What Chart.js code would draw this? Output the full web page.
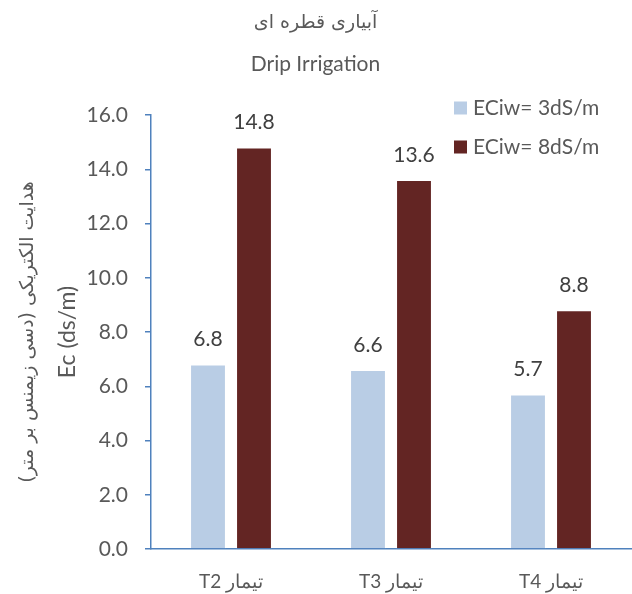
<!DOCTYPE html>
<html>
<head>
<meta charset="utf-8">
<script src="https://cdn.jsdelivr.net/npm/chart.js@4/dist/chart.umd.min.js"></script>
<style>
  body { margin: 0; background: #fff; }
  canvas { display: block; }
</style>
</head>
<body>
<canvas id="dripChart" width="632" height="594"></canvas>
<script>
// values
var categories = ['تیمار T2', 'تیمار T3', 'تیمار T4'];
var seriesNames = ['ECiw= 3dS/m', 'ECiw= 8dS/m'];
var ec3 = [6.8, 6.6, 5.7];
var ec8 = [14.8, 13.6, 8.8];
var yMin = 0, yMax = 16, yStep = 2;

var titleFa = 'آبیاری قطره ای';
var titleEn = 'Drip Irrigation';
var yTitleFa = 'هدایت الکتریکی (دسی زیمنس بر متر)';
var yTitleEn = 'Ec (ds/m)';

var colors = ['#B9CDE5', '#632523'];
var axisBlue = '#4F81BD';
var grey = '#595959';

// rtl embedding so the mixed labels come out as in the original
function rtl(s) { return '\u202B' + s + '\u202C'; }

var valueLabels = {
	id: 'valueLabels',
	afterDatasetsDraw: function(chart) {
		var ctx = chart.ctx;
		ctx.save();
		ctx.font = '21px Lato';
		ctx.fillStyle = '#404040';
		ctx.textAlign = 'center';
		ctx.textBaseline = 'middle';
		chart.data.datasets.forEach(function(ds, i) {
			chart.getDatasetMeta(i).data.forEach(function(bar, j) {
				ctx.fillText(ds.data[j].toFixed(1), bar.x, bar.y - 25);
			});
		});
		ctx.restore();
	}
};

var sideLegend = {
	id: 'sideLegend',
	afterDraw: function(chart) {
		var ctx = chart.ctx;
		ctx.save();
		ctx.font = '21px Lato';
		ctx.textBaseline = 'middle';
		chart.data.datasets.forEach(function(ds, i) {
			var y = 108 + i * 39;
			ctx.fillStyle = ds.backgroundColor;
			ctx.fillRect(454, y - 6.5, 13, 13);
			ctx.fillStyle = grey;
			ctx.fillText(ds.label, 473, y);
		});
		ctx.restore();
	}
};

var faAxisTitle = {
	id: 'faAxisTitle',
	afterDraw: function(chart) {
		var ctx = chart.ctx;
		var area = chart.chartArea;
		ctx.save();
		ctx.translate(28, (area.top + area.bottom) / 2);
		ctx.rotate(-Math.PI / 2);
		ctx.font = '19px "DejaVu Sans"';
		ctx.fillStyle = grey;
		ctx.textAlign = 'center';
		ctx.textBaseline = 'middle';
		ctx.fillText(rtl(yTitleFa), 0, 0);
		ctx.restore();
	}
};

new Chart(document.getElementById('dripChart'), {
	type: 'bar',
	data: {
		labels: categories,
		datasets: [
			{ label: seriesNames[0], data: ec3, backgroundColor: colors[0], borderColor: '#ffffff', borderWidth: 1 },
			{ label: seriesNames[1], data: ec8, backgroundColor: colors[1], borderColor: '#ffffff', borderWidth: 1 }
		]
	},
	options: {
		responsive: false,
		animation: false,
		layout: { padding: { left: 0, right: 1, top: 0, bottom: 0 } },
		categoryPercentage: 0.575,
		barPercentage: 0.78,
		plugins: {
			legend: { display: false },
			tooltip: { enabled: false },
			title: {
				display: true,
				text: titleFa,
				color: grey,
				font: { family: 'DejaVu Sans', size: 19, weight: 'normal', lineHeight: 1.2 },
				padding: { top: 12, bottom: 0 }
			},
			subtitle: {
				display: true,
				text: titleEn,
				color: grey,
				font: { family: 'Lato', size: 21, lineHeight: 1.2 },
				padding: { top: 17, bottom: 38 }
			}
		},
		scales: {
			x: {
				grid: { display: false, drawTicks: false },
				border: { display: true, color: axisBlue, width: 1.5 },
				ticks: {
					color: grey,
					font: { family: 'Lato', size: 19 },
					padding: 21,
					callback: function(v) { return rtl(this.getLabelForValue(v)); }
				},
				afterFit: function(scale) { scale.height = 45; }
			},
			y: {
				min: yMin,
				max: yMax,
				grid: { drawOnChartArea: false, drawTicks: true, tickLength: 6, color: axisBlue, lineWidth: 1.5 },
				border: { display: true, color: axisBlue, width: 1.5 },
				ticks: {
					stepSize: yStep,
					color: grey,
					font: { family: 'Lato', size: 21 },
					padding: 17,
					callback: function(v) { return v.toFixed(1); }
				},
				title: {
					display: true,
					text: yTitleEn,
					color: grey,
					font: { family: 'Lato', size: 23 },
					padding: { top: 54, bottom: 0 }
				},
				afterFit: function(scale) { scale.width = 151; }
			}
		}
	},
	plugins: [valueLabels, sideLegend, faAxisTitle]
});
</script>
</body>
</html>
